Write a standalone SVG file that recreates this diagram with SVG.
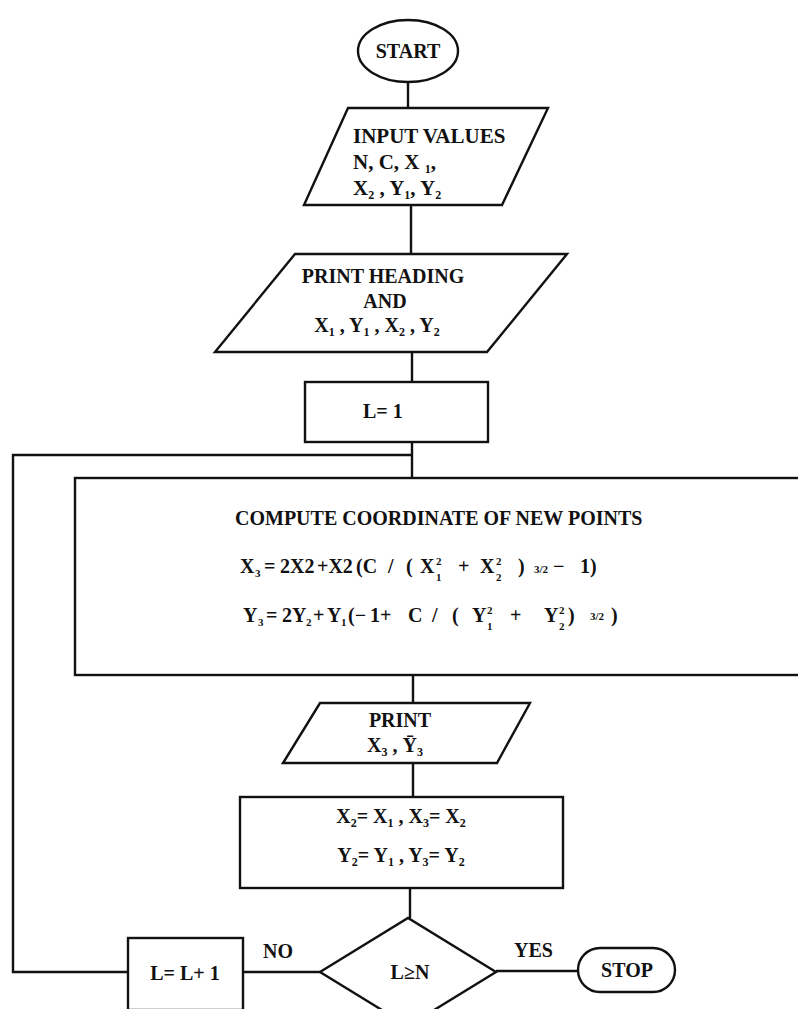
<svg xmlns="http://www.w3.org/2000/svg" width="798" height="1009" viewBox="0 0 798 1009">
<style>
.s{fill:none;stroke:#111;stroke-width:2.4;stroke-linejoin:miter}
.n{fill:#fff;stroke:#111;stroke-width:2.4}
.t{font-family:"Liberation Serif","Times New Roman",serif;font-weight:bold;font-size:20px;fill:#111}
.w{font-size:21px}
.m{text-anchor:middle}
.sb{font-size:12px}
.sm{font-size:11px}
</style>
<rect width="798" height="1009" fill="#fff"/>
<g id="connectors">
<path class="s" d="M408 82V108"/>
<path class="s" d="M411 205V254"/>
<path class="s" d="M412 352V382"/>
<path class="s" d="M412 442V478"/>
<path class="s" d="M128 972H13V455H412"/>
<path class="s" d="M413 675V703"/>
<path class="s" d="M413 763V797"/>
<path class="s" d="M410 888V918"/>
<path class="s" d="M496 971H578"/>
<path class="s" d="M320 972H243"/>
<text class="t" x="263" y="958">NO</text>
<text class="t" x="514" y="957">YES</text>
</g>
<g id="start">
<ellipse class="n" cx="408" cy="51" rx="50" ry="31"/>
<text class="t m" x="408" y="58">START</text>
</g>
<g id="input">
<path class="n" d="M348 108H548L502 205H304Z"/>
<text class="t w" x="353" y="143">INPUT VALUES</text>
<text class="t w" x="353" y="169">N, C, X <tspan class="sb" dy="4">1</tspan><tspan dy="-4">,</tspan></text>
<text class="t w" x="353" y="195">X<tspan class="sb" dy="4">2</tspan><tspan dy="-4"> , Y</tspan><tspan class="sb" dy="4">1</tspan><tspan dy="-4">, Y</tspan><tspan class="sb" dy="4">2</tspan></text>
</g>
<g id="printHeading">
<path class="n" d="M295 254H567L487 352H215Z"/>
<text class="t m" x="383" y="283">PRINT HEADING</text>
<text class="t m" x="385" y="308">AND</text>
<text class="t m" x="377" y="332">X<tspan class="sb" dy="4">1</tspan><tspan dy="-4"> , Y</tspan><tspan class="sb" dy="4">1</tspan><tspan dy="-4"> , X</tspan><tspan class="sb" dy="4">2</tspan><tspan dy="-4"> , Y</tspan><tspan class="sb" dy="4">2</tspan></text>
</g>
<g id="init">
<rect class="n" x="305" y="382" width="183" height="60"/>
<text class="t" x="363" y="418">L= 1</text>
</g>
<g id="compute">
<rect class="n" x="75" y="478" width="730" height="197"/>
<text class="t" x="235" y="525">COMPUTE COORDINATE OF NEW POINTS</text>
<text class="t"><tspan x="240" y="573">X</tspan><tspan class="sm" x="255" y="577">3</tspan><tspan x="264" y="573">=</tspan><tspan x="280" y="573">2X2</tspan><tspan x="317" y="573">+X2</tspan><tspan x="356" y="573">(C</tspan><tspan x="388" y="573">/</tspan><tspan x="406" y="573">(</tspan><tspan x="420" y="573">X</tspan><tspan class="sm" x="436" y="565">2</tspan><tspan class="sm" x="436" y="581">1</tspan><tspan x="458" y="573">+</tspan><tspan x="480" y="573">X</tspan><tspan class="sm" x="496" y="565">2</tspan><tspan class="sm" x="496" y="581">2</tspan><tspan x="518" y="573">)</tspan><tspan class="sm" x="534" y="573">3/2</tspan><tspan x="553" y="573">−</tspan><tspan x="580" y="573">1)</tspan></text>
<text class="t"><tspan x="243" y="622">Y</tspan><tspan class="sm" x="258" y="626">3</tspan><tspan x="266" y="622">=</tspan><tspan x="282" y="622">2Y</tspan><tspan class="sm" x="306" y="626">2</tspan><tspan x="313" y="622">+</tspan><tspan x="327" y="622">Y</tspan><tspan class="sm" x="341" y="626">1</tspan><tspan x="348" y="622">(−</tspan><tspan x="370" y="622">1+</tspan><tspan x="408" y="622">C</tspan><tspan x="432" y="622">/</tspan><tspan x="452" y="622">(</tspan><tspan x="472" y="622">Y</tspan><tspan class="sm" x="487" y="614">2</tspan><tspan class="sm" x="487" y="630">1</tspan><tspan x="510" y="622">+</tspan><tspan x="544" y="622">Y</tspan><tspan class="sm" x="559" y="614">2</tspan><tspan class="sm" x="559" y="630">2</tspan><tspan x="568" y="622">)</tspan><tspan class="sm" x="590" y="620">3/2</tspan><tspan x="611" y="622">)</tspan></text>
</g>
<g id="print">
<path class="n" d="M320 703H530L497 763H283Z"/>
<text class="t m" x="400" y="727">PRINT</text>
<text class="t m" x="395" y="752">X<tspan class="sb" dy="4">3</tspan><tspan dy="-4"> , Ȳ</tspan><tspan class="sb" dy="4">3</tspan></text>
</g>
<g id="assign">
<rect class="n" x="240" y="797" width="323" height="91"/>
<text class="t m" x="401" y="823">X<tspan class="sb" dy="4">2</tspan><tspan dy="-4">= X</tspan><tspan class="sb" dy="4">1</tspan><tspan dy="-4"> , X</tspan><tspan class="sb" dy="4">3</tspan><tspan dy="-4">= X</tspan><tspan class="sb" dy="4">2</tspan></text>
<text class="t m" x="401" y="862">Y<tspan class="sb" dy="4">2</tspan><tspan dy="-4">= Y</tspan><tspan class="sb" dy="4">1</tspan><tspan dy="-4"> , Y</tspan><tspan class="sb" dy="4">3</tspan><tspan dy="-4">= Y</tspan><tspan class="sb" dy="4">2</tspan></text>
</g>
<g id="decision">
<path class="n" d="M320 972L408 918L496 972L408 1026Z"/>
<text class="t m" x="410" y="979">L≥N</text>
</g>
<g id="increment">
<rect class="n" x="128" y="938" width="115" height="72"/>
<text class="t m" x="185" y="980">L= L+ 1</text>
</g>
<g id="stop">
<rect class="n" x="578" y="948" width="97" height="44" rx="22"/>
<text class="t m" x="627" y="977">STOP</text>
</g>
</svg>
